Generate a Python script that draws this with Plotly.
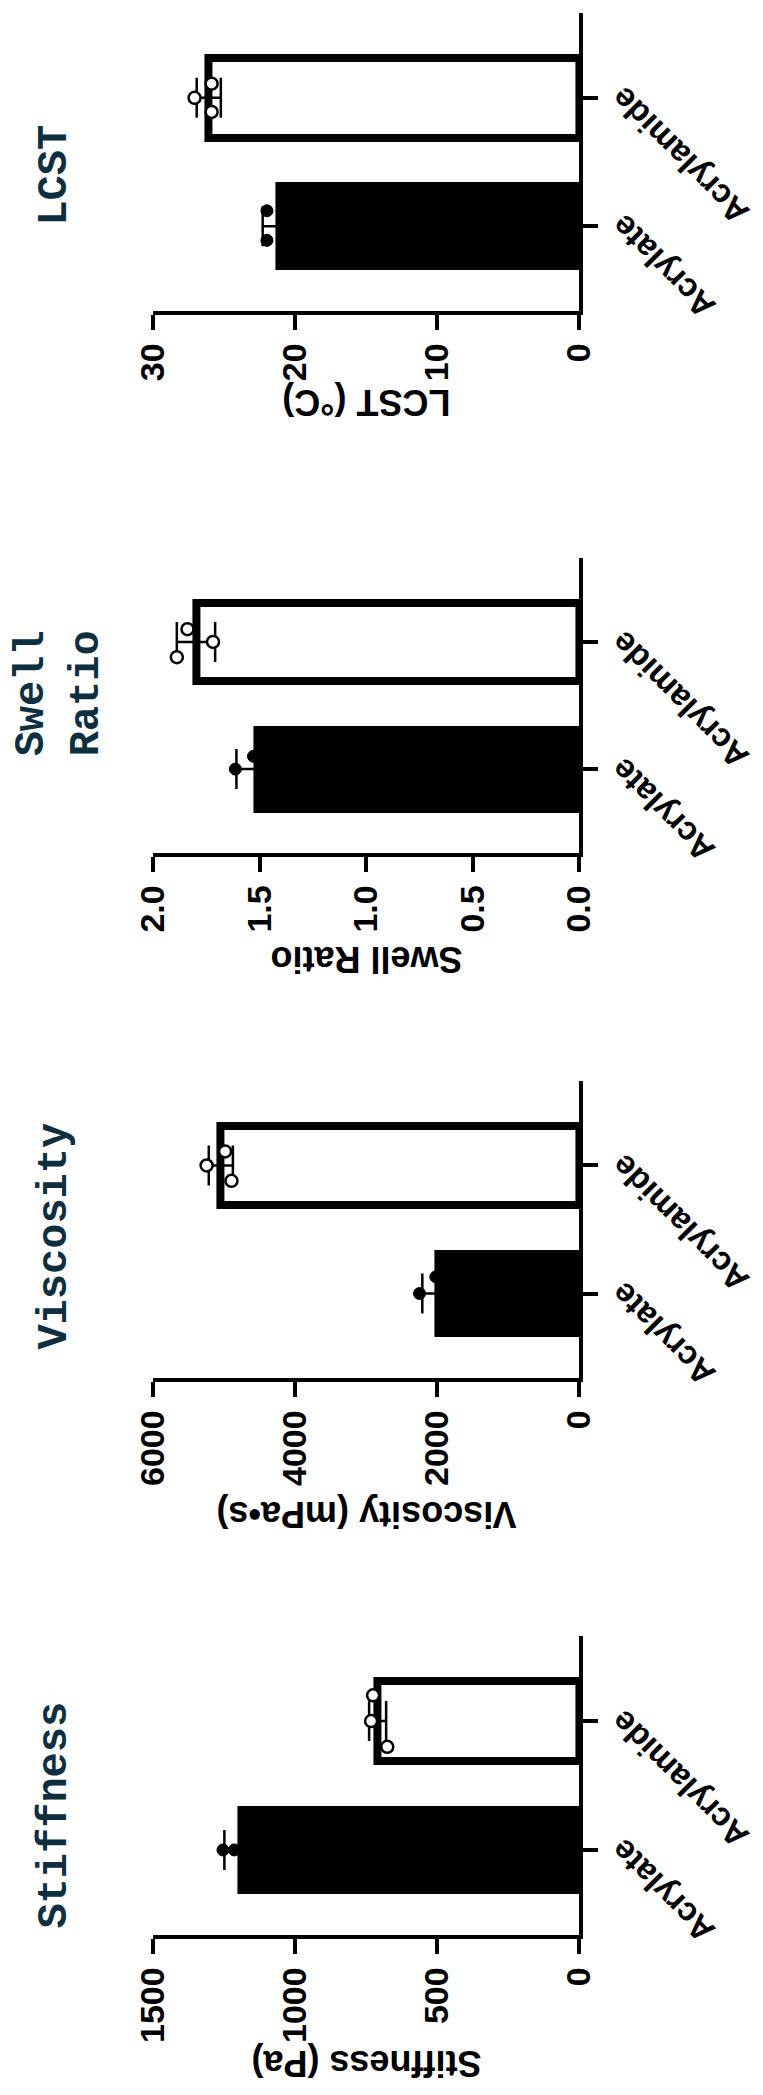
import plotly.graph_objects as go

W, H = 763, 2095

# ---------------- data ----------------
categories = ["Acrylate", "Acrylamide"]
panel_titles = ["Stiffness", "Viscosity", "Swell<br>Ratio", "LCST"]
axis_titles = ["Stiffness (Pa)", "Viscosity (mPa•s)", "Swell Ratio", "LCST (°C)"]

stiffness_mean = [1190, 710]
stiffness_sd = [60, 30]
stiffness_acrylate = [1255, 1215, 1100]
stiffness_acrylamide = [726, 733, 676]
stiffness_ticks = [0, 500, 1000, 1500]

viscosity_mean = [1980, 5050]
viscosity_sd = [230, 170]
viscosity_acrylate = [2250, 2020, 1670]
viscosity_acrylamide = [4990, 5250, 4900]
viscosity_ticks = [0, 2000, 4000, 6000]

swell_mean = [1.51, 1.80]
swell_sd = [0.10, 0.09]
swell_acrylate = [1.615, 1.53, 1.39]
swell_acrylamide = [1.84, 1.89, 1.72]
swell_ticks = [0.0, 0.5, 1.0, 1.5, 2.0]

lcst_mean = [21.1, 26.1]
lcst_sd = [1.2, 0.85]
lcst_acrylate = [22.0, 22.0, 19.3]
lcst_acrylamide = [25.9, 27.1, 25.9]
lcst_ticks = [0, 10, 20, 30]

# ---------------- layout (pixel geometry, styles) ----------------
panels = [
    dict(mean=stiffness_mean, sd=stiffness_sd, p0=stiffness_acrylate, p1=stiffness_acrylamide,
         ticks=stiffness_ticks, fmt="", band=(1628, 1927), title_c=(28, 1807), atitle_y=2056,
         jit0=[0, 0, 0], jit1=[0.2, 0, -0.2]),
    dict(mean=viscosity_mean, sd=viscosity_sd, p0=viscosity_acrylate, p1=viscosity_acrylamide,
         ticks=viscosity_ticks, fmt="", band=(1073, 1370), title_c=(28, 1228), atitle_y=1507,
         jit0=[0, 0.13, -0.13], jit1=[0.11, 0, -0.12]),
    dict(mean=swell_mean, sd=swell_sd, p0=swell_acrylate, p1=swell_acrylamide,
         ticks=swell_ticks, fmt=".1f", band=(550, 845), title_c=(33, 685), atitle_y=952,
         jit0=[0, 0.1, -0.1], jit1=[0.1, -0.12, 0]),
    dict(mean=lcst_mean, sd=lcst_sd, p0=lcst_acrylate, p1=lcst_acrylamide,
         ticks=lcst_ticks, fmt="", band=(5, 303), title_c=(28, 167), atitle_y=395,
         jit0=[0.12, -0.11, 0], jit1=[0.11, 0, -0.11]),
]

X0, X1 = 132, 580
SANS = "Liberation Sans, Arial, sans-serif"
MONO = "Liberation Mono, Courier New, monospace"
TITLE_COLOR = "#0e2f40"

fig = go.Figure()
annotations = []
layout_axes = {}

for i, p in enumerate(panels):
    n = i + 1
    xname = "x" if n == 1 else f"x{n}"
    yname = "y" if n == 1 else f"y{n}"
    xa = "xaxis" if n == 1 else f"xaxis{n}"
    ya = "yaxis" if n == 1 else f"yaxis{n}"

    fig.add_trace(go.Bar(
        x=p["mean"], y=[0, 1], orientation="h", width=0.62,
        marker=dict(color=["black", "white"], line=dict(color="black", width=8)),
        error_x=dict(type="data", array=p["sd"], visible=True, color="black",
                     thickness=2.5, width=20),
        xaxis=xname, yaxis=yname, showlegend=False, hoverinfo="skip",
    ))
    fig.add_trace(go.Scatter(
        x=p["p0"], y=[0 + j for j in p["jit0"]], mode="markers",
        marker=dict(size=12, color="black", line=dict(color="black", width=1)),
        xaxis=xname, yaxis=yname, showlegend=False, cliponaxis=False,
    ))
    fig.add_trace(go.Scatter(
        x=p["p1"], y=[1 + j for j in p["jit1"]], mode="markers",
        marker=dict(size=12, color="white", line=dict(color="black", width=2.5)),
        xaxis=xname, yaxis=yname, showlegend=False, cliponaxis=False,
    ))

    top, bot = p["band"]
    layout_axes[ya] = dict(
        domain=[1 - bot / H, 1 - top / H], range=[-0.66, 1.66], side="right",
        anchor=xname, tickvals=[0, 1], showticklabels=False, ticks="outside",
        ticklen=15, tickwidth=3.5, tickcolor="black", showline=True, linewidth=3.5,
        linecolor="black", showgrid=False, zeroline=False,
    )
    layout_axes[xa] = dict(
        domain=[X0 / W, X1 / W], range=[max(p["ticks"]), 0], anchor=yname,
        tickvals=p["ticks"], tickformat=p["fmt"], tickangle=-90, ticks="outside",
        ticklen=15, tickwidth=3.5, tickcolor="black", showline=True, linewidth=3.5,
        linecolor="black", showgrid=False, zeroline=False,
        tickfont=dict(family=SANS, size=34, color="black", weight="bold"),
    )

    # panel title
    cx, cy = p["title_c"]
    annotations.append(dict(
        text=f"<b>{panel_titles[i]}</b>", textangle=-90, x=cx / W, y=1 - cy / H,
        xref="paper", yref="paper", showarrow=False, xanchor="center", yanchor="middle",
        font=dict(family=MONO, size=42, color=TITLE_COLOR),
    ))
    # value-axis title (upside down)
    annotations.append(dict(
        text=axis_titles[i], textangle=180, x=((X0 + X1) / 2) / W, y=1 - p["atitle_y"] / H,
        xref="paper", yref="paper", showarrow=False, xanchor="center", yanchor="middle",
        font=dict(family=SANS, size=36, color="black", weight="bold"),
    ))
    # category labels
    for k, c in enumerate(categories):
        annotations.append(dict(
            text=c, textangle=-135, x=X1 / W, y=k, xref="paper", yref=yname,
            xshift=22, yshift=21, showarrow=False, xanchor="left", yanchor="top",
            font=dict(family=SANS, size=33, color="black", weight="bold"),
        ))

fig.update_layout(
    width=W, height=H, margin=dict(l=0, r=0, t=0, b=0),
    paper_bgcolor="white", plot_bgcolor="white",
    annotations=annotations, showlegend=False, bargap=0,
    **layout_axes,
)

fig.write_html("out.html")
